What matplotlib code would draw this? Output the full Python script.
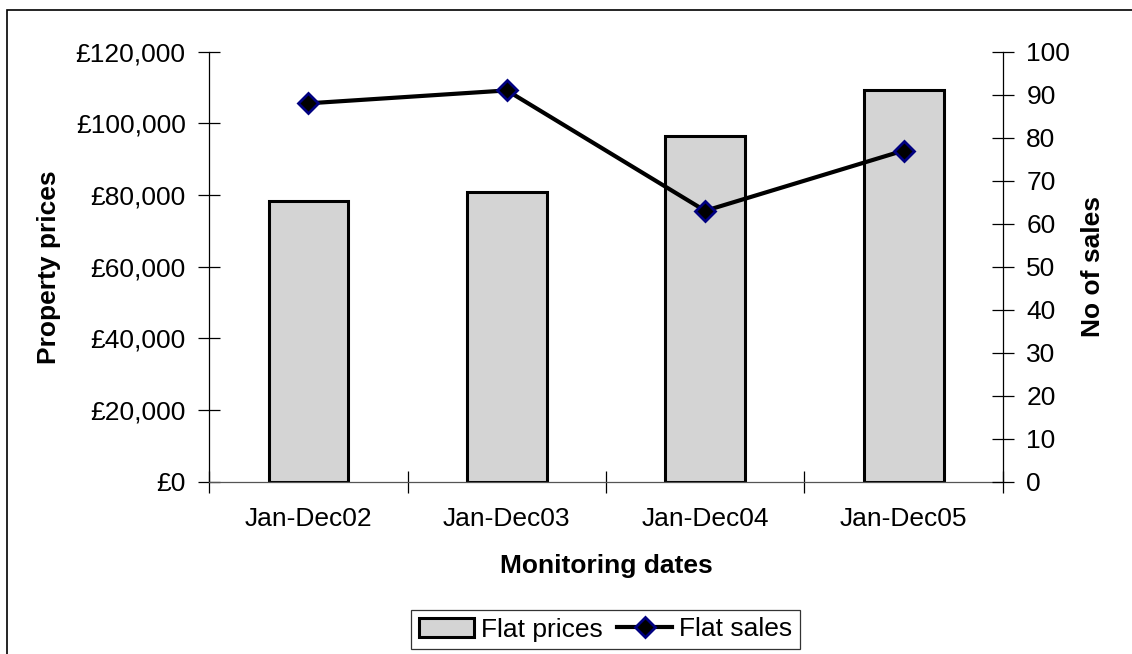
import matplotlib.pyplot as plt
from matplotlib.patches import Rectangle
from matplotlib.ticker import FuncFormatter

plt.rcParams['font.family'] = ['Liberation Sans', 'DejaVu Sans']

periods = ["Jan-Dec02", "Jan-Dec03", "Jan-Dec04", "Jan-Dec05"]
flat_prices = [78300, 80850, 96600, 109300]
flat_sales = [88, 91, 63, 77]

fs = 19
fig = plt.figure(figsize=(11.32, 6.54), dpi=100)
ax = fig.add_axes([0.1849, 0.2635, 0.7009, 0.6574])

x = list(range(len(periods)))
bars = ax.bar(x, flat_prices, width=0.403, color='#d4d4d4', edgecolor='black',
              linewidth=2.2, label='Flat prices', zorder=2)
ax.set_xlim(-0.5, 3.5)
ax.set_ylim(0, 120000)
ax.set_yticks(range(0, 120001, 20000))
ax.yaxis.set_major_formatter(FuncFormatter(lambda v, p: "£{:,.0f}".format(v)))

# category boundaries get the ticks, labels sit in between
ax.set_xticks([-0.5, 0.5, 1.5, 2.5, 3.5])
ax.set_xticklabels([])
ax.set_xticks(x, minor=True)
ax.set_xticklabels(periods, minor=True)
ax.tick_params(axis='x', which='minor', length=0, pad=18, labelsize=fs)
ax.tick_params(axis='x', which='major', direction='inout', length=16, width=0.9)
ax.tick_params(axis='y', direction='inout', length=16, width=0.9, pad=9, labelsize=fs)

for s in ['top', 'right']:
    ax.spines[s].set_visible(False)
ax.spines['left'].set_linewidth(0.9)
ax.spines['bottom'].set_linewidth(0.9)
ax.spines['bottom'].set_color('#555555')

ax2 = ax.twinx()
line, = ax2.plot(x, flat_sales, color='black', linewidth=3.0, marker='D',
                 markersize=10.5, markerfacecolor='black', markeredgecolor='#000080',
                 markeredgewidth=2, label='Flat sales', zorder=3)
ax2.set_ylim(0, 100)
ax2.set_yticks(range(0, 101, 10))
ax2.tick_params(axis='y', direction='inout', length=16, width=0.9, pad=9, labelsize=fs)
for s in ['top', 'left', 'bottom']:
    ax2.spines[s].set_visible(False)
ax2.spines['right'].set_linewidth(0.9)

fig.text(0.5353, 1 - 566 / 654, "Monitoring dates", ha='center', va='center',
         fontsize=fs, fontweight='bold')
fig.text(49.5 / 1132, 1 - 266.7 / 654, "Property prices", ha='center', va='center',
         rotation=90, fontsize=fs, fontweight='bold')
fig.text(1093 / 1132, 1 - 266.7 / 654, "No of sales", ha='center', va='center',
         rotation=90, fontsize=fs, fontweight='bold')

leg = fig.legend([bars, line], ['Flat prices', 'Flat sales'], loc='center',
                 bbox_to_anchor=(605.5 / 1132, 1 - 629.5 / 654), ncol=2,
                 fontsize=fs, frameon=True, fancybox=False, handlelength=2.1,
                 handletextpad=0.25, columnspacing=0.55, borderpad=0.3,
                 borderaxespad=0)
leg.get_frame().set_edgecolor('black')
leg.get_frame().set_linewidth(0.9)

# outer chart frame (runs off the right and bottom edges)
fig.patches.append(Rectangle((7 / 1132, -0.05), 1.2, 1 - 10 / 654 + 0.05,
                             transform=fig.transFigure, fill=False,
                             edgecolor='black', linewidth=1.2))

fig.savefig("out.png", dpi=100)
